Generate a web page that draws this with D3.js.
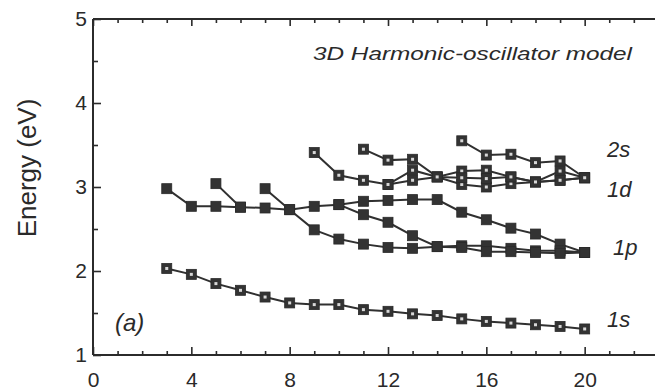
<!DOCTYPE html>
<html>
<head>
<meta charset="utf-8">
<script src="https://cdn.jsdelivr.net/npm/d3@7"></script>
<style>
  html, body { margin: 0; padding: 0; background: #fff; }
  svg { display: block; }
  text { font-family: "Liberation Sans", Arial, Helvetica, sans-serif; fill: #2a2a2a; }
</style>
</head>
<body>
<svg id="chart" width="655" height="392"></svg>
<script>
// Cluster size N and plasmon energies (eV) for each sublevel branch
const s1Size = [3,4,5,6,7,8,9,10,11,12,13,14,15,16,17,18,19,20];
const s1Energy = [2.03,1.96,1.85,1.77,1.69,1.62,1.60,1.60,1.54,1.52,1.49,1.47,1.43,1.40,1.38,1.36,1.34,1.31];

const p1aSize = [3,4,5,6,7,8,9,10,11,12,13,14,15,16,17,18,19,20];
const p1aEnergy = [2.98,2.77,2.77,2.76,2.75,2.73,2.77,2.79,2.83,2.84,2.85,2.85,2.70,2.61,2.51,2.44,2.32,2.22];
const p1bSize = [5,6];
const p1bEnergy = [3.04,2.76];
const p1cSize = [7,8,9,10,11,12,13,14,15,16,17,18,19,20];
const p1cEnergy = [2.98,2.73,2.49,2.38,2.32,2.28,2.27,2.29,2.30,2.30,2.27,2.24,2.24,2.22];
const p1dSize = [10,11,12,13,14,15,16,17,18,19,20];
const p1dEnergy = [2.79,2.67,2.58,2.42,2.29,2.28,2.23,2.23,2.22,2.21,2.22];

const d1aSize = [9,10,11,12,13,14,15,16,17,18,19,20];
const d1aEnergy = [3.41,3.14,3.08,3.03,3.08,3.12,3.03,3.00,3.04,3.06,3.08,3.11];
const d1bSize = [11,12,13,14,15,16,17,18,19,20];
const d1bEnergy = [3.45,3.32,3.33,3.12,3.19,3.20,3.12,3.06,3.19,3.11];
const d1cSize = [12,13,14,15,16,17,18,19,20];
const d1cEnergy = [3.03,3.20,3.12,3.11,3.10,3.12,3.06,3.08,3.11];
const s2Size = [15,16,17,18,19,20];
const s2Energy = [3.55,3.38,3.39,3.29,3.31,3.11];

const xMajorTicks = [0,4,8,12,16,20];
const yMajorTicks = [1,2,3,4,5];

const branches = [
  {size: s1Size, energy: s1Energy, open: true},
  {size: p1aSize, energy: p1aEnergy, open: false},
  {size: p1bSize, energy: p1bEnergy, open: false},
  {size: p1cSize, energy: p1cEnergy, open: false},
  {size: p1dSize, energy: p1dEnergy, open: false},
  {size: d1aSize, energy: d1aEnergy, open: true},
  {size: d1bSize, energy: d1bEnergy, open: true},
  {size: d1cSize, energy: d1cEnergy, open: true},
  {size: s2Size, energy: s2Energy, open: true}
];

const svg = d3.select("#chart");
const ink = "#2b2b2b";
const x = d3.scaleLinear().domain([0, 24]).range([93, 683]);
const y = d3.scaleLinear().domain([1, 5]).range([355, 19]);

// frame
const frame = svg.append("g").attr("stroke", ink).attr("stroke-width", 2).attr("fill", "none");
frame.append("line").attr("x1", x(0)).attr("x2", x(24)).attr("y1", y(1)).attr("y2", y(1));
frame.append("line").attr("x1", x(0)).attr("x2", x(24)).attr("y1", y(5)).attr("y2", y(5));
frame.append("line").attr("x1", x(0)).attr("x2", x(0)).attr("y1", y(1)).attr("y2", y(5));

function styleAxis(g) {
  g.select(".domain").remove();
  g.selectAll(".tick line").attr("stroke", ink).attr("stroke-width", 1.6);
  g.selectAll(".tick text").attr("fill", ink);
}

const xMinor = d3.range(0, 24, 1).filter(v => v % 4 !== 0);
const yMinor = [1.5, 2.5, 3.5, 4.5];

// bottom axis
svg.append("g").attr("transform", `translate(0,${y(1)})`)
  .call(d3.axisBottom(x).tickValues(xMinor).tickSizeInner(-4).tickSizeOuter(0).tickFormat(""))
  .call(styleAxis);
svg.append("g").attr("transform", `translate(0,${y(1)})`)
  .call(d3.axisBottom(x).tickValues(xMajorTicks).tickSizeInner(-8).tickSizeOuter(0).tickPadding(17).tickFormat(d3.format("d")))
  .call(styleAxis)
  .selectAll("text").style("font-size", "21px");

// top axis
svg.append("g").attr("transform", `translate(0,${y(5)})`)
  .call(d3.axisTop(x).tickValues(xMinor).tickSizeInner(-4).tickSizeOuter(0).tickFormat(""))
  .call(styleAxis);
svg.append("g").attr("transform", `translate(0,${y(5)})`)
  .call(d3.axisTop(x).tickValues(xMajorTicks).tickSizeInner(-7).tickSizeOuter(0).tickFormat(""))
  .call(styleAxis);

// left axis
svg.append("g").attr("transform", `translate(${x(0)},0)`)
  .call(d3.axisLeft(y).tickValues(yMinor).tickSizeInner(-5).tickSizeOuter(0).tickFormat(""))
  .call(styleAxis);
svg.append("g").attr("transform", `translate(${x(0)},0)`)
  .call(d3.axisLeft(y).tickValues(yMajorTicks).tickSizeInner(-8).tickSizeOuter(0).tickPadding(6).tickFormat(d3.format("d")))
  .call(styleAxis)
  .selectAll("text").style("font-size", "21px");

// y axis title
svg.append("text")
  .attr("transform", `translate(36,168) rotate(-90)`)
  .attr("text-anchor", "middle")
  .style("font-size", "26px")
  .text("Energy (eV)");

// branch lines
const line = d3.line().x(d => x(d[0])).y(d => y(d[1]));
const lineLayer = svg.append("g");
const markLayer = svg.append("g");
branches.forEach(b => {
  const pts = b.size.map((n, i) => [n, b.energy[i]]);
  lineLayer.append("path").datum(pts)
    .attr("d", line).attr("fill", "none")
    .attr("stroke", "#303030").attr("stroke-width", 2);
});
branches.forEach(b => {
  const pts = b.size.map((n, i) => [n, b.energy[i]]);
  const g = markLayer.selectAll(null).data(pts).enter().append("g")
    .attr("transform", d => `translate(${x(d[0])},${y(d[1])})`);
  g.append("rect").attr("x", -5).attr("y", -5).attr("width", 10).attr("height", 10)
    .attr("fill", "#333").attr("stroke", "#2a2a2a").attr("stroke-width", 0.8);
  if (b.open) {
    g.append("rect").attr("x", -1.5).attr("y", -1.5).attr("width", 3).attr("height", 3)
      .attr("fill", "#d8d8d8");
  }
});

// annotations
svg.append("text").attr("x", 313).attr("y", 60)
  .attr("textLength", 319).attr("lengthAdjust", "spacingAndGlyphs")
  .style("font-size", "19px").style("font-style", "italic")
  .text("3D Harmonic-oscillator model");
svg.append("text").attr("x", 115).attr("y", 331)
  .style("font-size", "24px").style("font-style", "italic").text("(a)");
const levelLabels = [["2s", 607, 157], ["1d", 607, 197], ["1p", 613, 255], ["1s", 607, 327]];
levelLabels.forEach(([t, lx, ly]) => {
  svg.append("text").attr("x", lx).attr("y", ly)
    .style("font-size", "22px").style("font-style", "italic").text(t);
});
</script>
</body>
</html>
